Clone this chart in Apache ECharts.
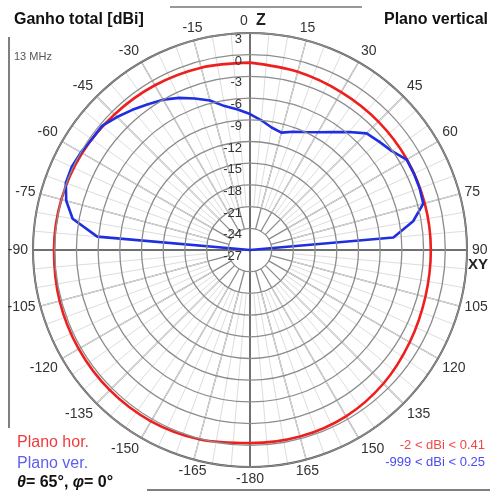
<!DOCTYPE html>
<html><head><meta charset="utf-8">
<script src="https://cdn.jsdelivr.net/npm/echarts@6/dist/echarts.min.js"></script>
<style>html,body{margin:0;padding:0;background:#fff}#c{width:490px;height:497px}</style>
</head><body><div id="c"></div>
<script>
// ---- data ----
const radiusMin = -27, radiusMax = 3, radiusStep = 3;
const angleStep = 15;
// Horizontal plane (red), angle in degrees (0 = Z/top, clockwise), gain dBi
const redAngles = [0,15,30,45,60,75,90,105,120,135,150,165,180,-165,-150,-135,-120,-105,-90,-75,-60,-45,-30,-15];
const redDbi    = [-1.1,-1.5,-1.8,-1.9,-1.95,-2.0,-2.0,-1.9,-1.5,-0.9,-0.45,-0.3,-0.3,0.1,0.35,0.41,0.35,0.25,0.1,0.0,-0.2,-0.5,-0.7,-0.9];
// Vertical plane (blue)
const blueAngles = [-90,-85,-80,-75,-70,-65,-60,-55,-50,-45,-40,-35,-30,-25,-20,-15,-10,-5,0,5,10,15,20,25,30,35,40,45,50,55,60,65,70,75,80,85,90];
const blueDbi    = [-999,-5.8,-2.1,-0.7,0.1,0.2,0.0,-0.3,-0.3,-1.0,-1.7,-2.4,-3.0,-3.8,-4.7,-5.6,-6.8,-7.5,-8.2,-9.0,-9.8,-10.2,-9.6,-9.0,-8.2,-7.1,-5.7,-4.2,-3.7,-3.1,-2.0,-2.0,-2.05,-2.2,-4.1,-7.1,-999];

const FONT = "'Liberation Sans', Arial, sans-serif";
const chart = echarts.init(document.getElementById('c'));
const C = [250, 250], R = 217;
const pxPerDb = R / (radiusMax - radiusMin);
const rIn1 = (radiusMin + radiusStep - radiusMin) * pxPerDb;      // -24 ring
const rIn2 = (radiusMin + 2*radiusStep - radiusMin) * pxPerDb;    // -21 ring

const angFmt = v => v === 360 ? '' : (v === 0 ? '{l|0}' : String(v >= 180 ? v - 360 : v));
const baseAngle = {type:'value', min:0, max:360, startAngle:90, clockwise:true,
  axisTick:{show:false}, axisLabel:{show:false}, axisLine:{show:false}, splitLine:{show:false}};
const hiddenRadius = {type:'value', min:radiusMin, max:radiusMax, show:false,
  axisLine:{show:false}, axisTick:{show:false}, axisLabel:{show:false}, splitLine:{show:false}};

const toPolar = (angs, vals) => angs.map((a, i) => [Math.max(vals[i], radiusMin), (a + 360) % 360]);
const redData = toPolar(redAngles, redDbi); redData.push(redData[0]);
const blueData = toPolar(blueAngles, blueDbi);

chart.setOption({
  animation:false,
  backgroundColor:'#fff',
  polar:[
    {center:C, radius:R},
    {center:C, radius:[rIn1, R]},
    {center:C, radius:[rIn2, R]},
    {center:C, radius:R}
  ],
  angleAxis:[
    Object.assign({}, baseAngle, {polarIndex:0, interval:angleStep,
      axisLine:{show:true, lineStyle:{color:'#5a5a5a', width:2}}}),
    Object.assign({}, baseAngle, {polarIndex:1, interval:angleStep,
      splitLine:{show:true, lineStyle:{color:'#8c8c8c', width:1.3}},
      axisLabel:{show:true, margin:5, color:'#333', fontSize:14, fontFamily:FONT, formatter:angFmt,
        rich:{l:{fontSize:14, color:'#333', fontFamily:FONT, padding:[0,12,0,0]}}}}),
    Object.assign({}, baseAngle, {polarIndex:2, interval:5,
      splitLine:{show:true, lineStyle:{color:'#dddddd', width:1}}}),
    Object.assign({}, baseAngle, {polarIndex:3, interval:90,
      splitLine:{show:true, lineStyle:{color:'#555', width:1.5}}})
  ],
  radiusAxis:[
    {polarIndex:0, type:'value', min:radiusMin, max:radiusMax, interval:radiusStep,
      axisLine:{show:false}, axisTick:{show:false},
      splitLine:{show:true, lineStyle:{color:'#8c8c8c', width:1.3}},
      axisLabel:{show:true, color:'#333', fontSize:13, fontFamily:FONT, margin:8, verticalAlign:'top'}, z:5},
    Object.assign({}, hiddenRadius, {polarIndex:1}),
    Object.assign({}, hiddenRadius, {polarIndex:2}),
    Object.assign({}, hiddenRadius, {polarIndex:3})
  ],
  series:[
    {type:'line', coordinateSystem:'polar', polarIndex:0, data:redData, smooth:0.35, symbol:'none',
      lineStyle:{color:'#ee1f1f', width:2.6}, z:3},
    {type:'line', coordinateSystem:'polar', polarIndex:0, data:blueData, smooth:false, symbol:'none',
      lineStyle:{color:'#1f2ee0', width:2.6}, z:4}
  ],
  graphic:[
    {type:'line', shape:{x1:170, y1:7, x2:362, y2:7}, style:{stroke:'#333', lineWidth:1}},
    {type:'line', shape:{x1:9, y1:37, x2:9, y2:428}, style:{stroke:'#555', lineWidth:1.5}},
    {type:'line', shape:{x1:147, y1:490, x2:490, y2:490}, style:{stroke:'#555', lineWidth:1.5}},
    {type:'text', left:14, top:12, style:{text:'Ganho total [dBi]', font:"bold 16px "+FONT, fill:'#111'}},
    {type:'text', right:2, top:12, style:{text:'Plano vertical', font:"bold 16px "+FONT, fill:'#111'}},
    {type:'text', left:14, top:51, style:{text:'13 MHz', font:"11px "+FONT, fill:'#555'}},
    {type:'text', x:256, y:13, style:{text:'Z', font:"bold 16px "+FONT, fill:'#222'}},
    {type:'text', x:468, y:257, style:{text:'XY', font:"bold 15px "+FONT, fill:'#222'}},
    {type:'text', left:17, top:435, style:{text:'Plano hor.', font:"16px "+FONT, fill:'#f03c3c'}},
    {type:'text', left:17, top:456, style:{text:'Plano ver.', font:"16px "+FONT, fill:'#5e5ef0'}},
    {type:'text', left:17, top:475, style:{text:'{i|θ}= 65°, {i|φ}= 0°', font:"bold 16px "+FONT, fill:'#111',
      rich:{i:{fontStyle:'italic', fontWeight:'bold', fontSize:16, fontFamily:FONT, fill:'#111'}}}},
    {type:'text', right:5, top:439, style:{text:'-2 < dBi < 0.41', font:"13px "+FONT, fill:'#f04848'}},
    {type:'text', right:5, top:456, style:{text:'-999 < dBi < 0.25', font:"13px "+FONT, fill:'#4a4af0'}}
  ]
});
</script></body></html>
